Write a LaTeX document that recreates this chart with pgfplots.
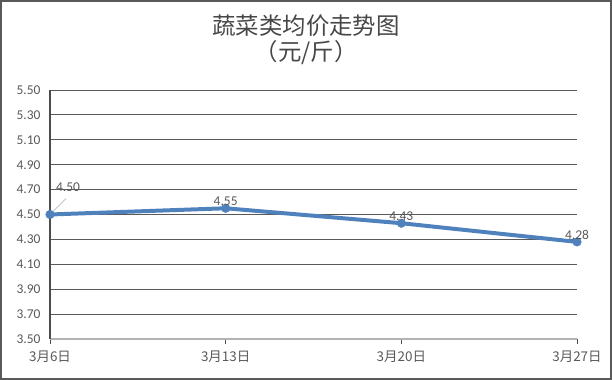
\documentclass[border=0pt]{standalone}
\usepackage{pgfplots}
\pgfplotsset{compat=1.18}
\usepackage{fontspec}
\setmainfont{Carlito}
\newfontfamily\cjk{Noto Sans CJK SC}
\definecolor{txt}{HTML}{595959}
\definecolor{ln}{HTML}{4F81BD}
\begin{document}
\begin{tikzpicture}
\path[use as bounding box] (0,0) rectangle (612bp,380bp);
\draw[color=black!65, line width=2bp] (1bp,1bp) rectangle (611bp,379bp);
\node[text=black!72, font=\cjk\fontsize{23.5}{26}\selectfont, align=center] at (306bp,340bp) {蔬菜类均价走势图\\（元/斤）};
\begin{axis}[
  at={(50bp,41bp)}, anchor=south west,
  scale only axis, width=527bp, height=249bp,
  xmin=0, xmax=3, ymin=3.5, ymax=5.5,
  xtick={0,1,2,3},
  xticklabels={3月6日,3月13日,3月20日,3月27日},
  x tick label style={font=\cjk\fontsize{13.5}{15}\selectfont, text=txt, yshift=-3bp},
  ytick={3.5,3.7,...,5.51},
  y tick label style={font=\fontsize{13.5}{15}\selectfont, text=txt, xshift=-6bp},
  yticklabel style={/pgf/number format/fixed, /pgf/number format/fixed zerofill, /pgf/number format/precision=2, /pgf/number format/assume math mode=true},
  ymajorgrids,
  grid style={black!65, line width=0.8pt},
  axis x line*=bottom, axis y line*=left,
  x axis line style={black!30, line width=2.5pt, -},
  y axis line style={black!70, line width=1.5pt, -},
  xtick style={black!70, line width=1pt},
  xtick align=outside,
  major tick length=5bp,
  ytick style={draw=none},
  clip=false,
]
\draw[black!35, line width=0.7pt] (axis cs:0,4.5) ++(2bp,2bp) -- ++(14bp,14bp);
\addplot[color=ln, line width=4pt, mark=*, mark size=4.3pt, mark options={fill=ln, draw=ln, line width=0.5pt}]
  coordinates {(0,4.50) (1,4.55) (2,4.43) (3,4.28)};
\addplot[draw=none, mark=none, nodes near coords,
  every node near coord/.append style={font=\fontsize{13.5}{15}\selectfont, text=txt, anchor=south, yshift=-1bp,
    /pgf/number format/fixed, /pgf/number format/fixed zerofill, /pgf/number format/precision=2, /pgf/number format/assume math mode=true}]
  coordinates {(1,4.55) (2,4.43) (3,4.28)};
\addplot[draw=none, mark=none, nodes near coords,
  every node near coord/.append style={font=\fontsize{13.5}{15}\selectfont, text=txt, anchor=center, xshift=18bp, yshift=27bp,
    /pgf/number format/fixed, /pgf/number format/fixed zerofill, /pgf/number format/precision=2, /pgf/number format/assume math mode=true}]
  coordinates {(0,4.50)};
\end{axis}
\end{tikzpicture}
\end{document}
